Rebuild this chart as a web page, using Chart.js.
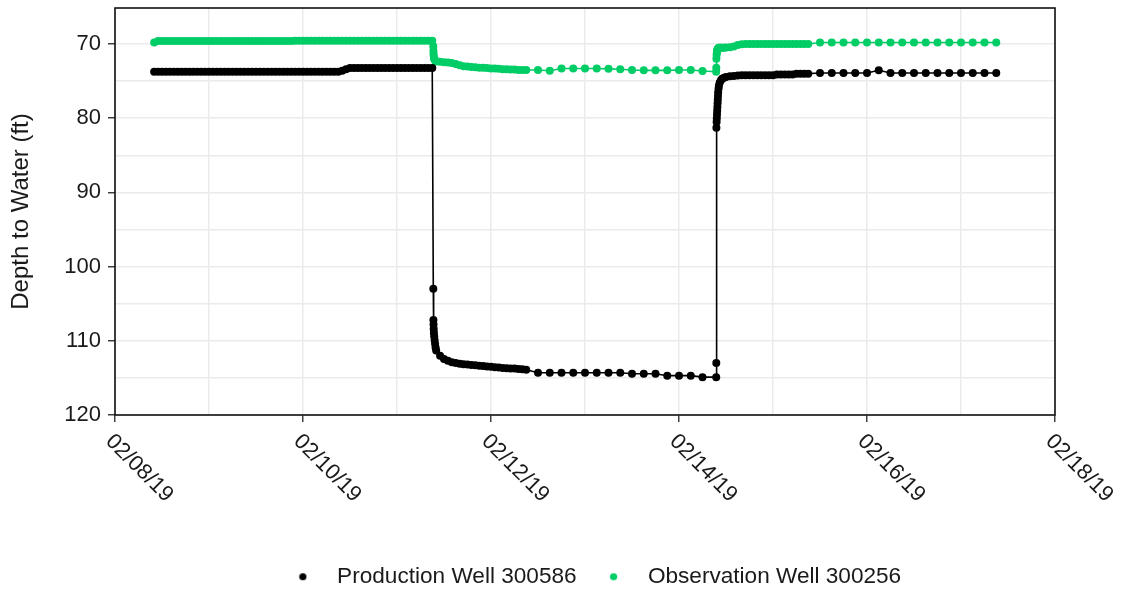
<!DOCTYPE html>
<html>
<head>
<meta charset="utf-8">
<title>Depth to Water</title>
<script src="https://cdn.jsdelivr.net/npm/chart.js@4.4.1/dist/chart.umd.min.js"></script>
<style>
  html, body { margin: 0; padding: 0; background: #ffffff; }
  #wrap { width: 1121px; height: 592px; position: relative; }
</style>
</head>
<body>
<div id="wrap"><canvas id="chart"></canvas></div>
<script>
// Logger time, hours after 02/08/19 00:00 (shared by both wells)
const hours = [
  10, 11, 12, 13, 14, 15, 16, 17, 18, 19, 20, 21,
  22, 23, 24, 25, 26, 27, 28, 29, 30, 31, 32, 33,
  34, 35, 36, 37, 38, 39, 40, 41, 42, 43, 44, 45,
  46, 47, 48, 49, 50, 51, 52, 53, 54, 55, 56, 57,
  58, 59, 60, 61, 62, 63, 64, 65, 66, 67, 68, 69,
  70, 71, 72, 73, 74, 75, 76, 77, 78, 79, 80, 81,
  81.27, 81.3, 81.33, 81.37, 81.42, 81.5, 81.6, 81.72, 81.85,
  82, 83, 84, 85, 86, 87, 88, 89, 90, 91, 92, 93,
  94, 95, 96, 97, 98, 99, 100, 101, 102, 103, 104, 105,
  108, 111, 114, 117, 120, 123, 126, 129, 132, 135, 138, 141, 144, 147, 150, 153.5,
  153.52, 153.55, 153.6, 153.65, 153.7, 153.75, 153.8, 153.85, 153.9, 153.95,
  154, 154.1, 154.2, 154.4, 154.7, 155, 155.5, 156, 157,
  158, 159, 160, 161, 162, 163, 164, 165, 166, 167,
  168, 169, 170, 171, 172, 173, 174, 175, 176, 177,
  180, 183, 186, 189, 192, 195, 198, 201, 204, 207, 210, 213, 216, 219, 222, 225
];

// Production Well 300586, depth to water (ft)
const productionDepth = [
  73.75, 73.75, 73.75, 73.75, 73.75, 73.75, 73.75, 73.75, 73.75, 73.75, 73.75, 73.75,
  73.75, 73.75, 73.75, 73.75, 73.75, 73.75, 73.75, 73.75, 73.75, 73.75, 73.75, 73.75,
  73.75, 73.75, 73.75, 73.75, 73.75, 73.75, 73.75, 73.75, 73.75, 73.75, 73.75, 73.75,
  73.75, 73.75, 73.75, 73.75, 73.75, 73.75, 73.75, 73.75, 73.75, 73.75, 73.75, 73.75,
  73.6, 73.4, 73.25, 73.25, 73.25, 73.25, 73.25, 73.25, 73.25, 73.25, 73.25, 73.25,
  73.25, 73.25, 73.25, 73.25, 73.25, 73.25, 73.25, 73.25, 73.25, 73.25, 73.25, 73.25,
  103.0, 107.2, 107.8, 108.4, 108.9, 109.4, 109.9, 110.4, 110.9,
  111.3, 112.0, 112.45, 112.7, 112.9, 113.0, 113.1, 113.15, 113.2, 113.25, 113.3, 113.35,
  113.4, 113.45, 113.5, 113.55, 113.6, 113.65, 113.7, 113.72, 113.75, 113.8, 113.85, 113.9,
  114.3, 114.3, 114.3, 114.3, 114.3, 114.3, 114.3, 114.3, 114.45, 114.45, 114.45, 114.7, 114.7, 114.7, 114.9, 114.9,
  113.0, 81.3, 80.5, 80.0, 79.5, 79.0, 78.5, 78.0, 77.5, 77.0,
  76.5, 76.0, 75.6, 75.2, 74.9, 74.7, 74.55, 74.45, 74.35,
  74.3, 74.25, 74.2, 74.2, 74.2, 74.2, 74.2, 74.2, 74.2, 74.2,
  74.2, 74.1, 74.1, 74.1, 74.1, 74.1, 74.0, 74.0, 74.0, 74.0,
  73.9, 73.9, 73.9, 73.9, 73.9, 73.55, 73.9, 73.9, 73.9, 73.9, 73.9, 73.9, 73.9, 73.9, 73.9, 73.9
];

// Observation Well 300256, depth to water (ft)
const observationDepth = [
  69.8, 69.6, 69.6, 69.6, 69.6, 69.6, 69.6, 69.6, 69.6, 69.6, 69.6, 69.6,
  69.6, 69.6, 69.6, 69.6, 69.6, 69.6, 69.6, 69.6, 69.6, 69.6, 69.6, 69.6,
  69.6, 69.6, 69.6, 69.6, 69.6, 69.6, 69.6, 69.6, 69.6, 69.6, 69.6, 69.6,
  69.55, 69.55, 69.55, 69.55, 69.55, 69.55, 69.55, 69.55, 69.55, 69.55, 69.55, 69.55,
  69.55, 69.55, 69.55, 69.55, 69.55, 69.55, 69.55, 69.55, 69.55, 69.55, 69.55, 69.55,
  69.55, 69.55, 69.55, 69.55, 69.55, 69.55, 69.55, 69.55, 69.55, 69.55, 69.55, 69.55,
  70.3, 70.9, 71.3, 71.6, 71.85, 72.0, 72.1, 72.2, 72.3,
  72.35, 72.4, 72.45, 72.5, 72.55, 72.7, 72.85, 73.0, 73.05, 73.1, 73.15, 73.2,
  73.2, 73.25, 73.3, 73.3, 73.35, 73.4, 73.4, 73.45, 73.45, 73.5, 73.5, 73.5,
  73.5, 73.6, 73.3, 73.3, 73.3, 73.3, 73.35, 73.4, 73.5, 73.55, 73.55, 73.55, 73.5, 73.5, 73.65, 73.75,
  73.2, 72.0, 71.5, 71.2, 71.0, 70.9, 70.8, 70.75, 70.7, 70.65,
  70.6, 70.55, 70.5, 70.5, 70.5, 70.5, 70.5, 70.48, 70.45,
  70.35, 70.15, 70.05, 70.0, 70.0, 70.0, 70.0, 70.0, 70.0, 70.0,
  70.0, 70.0, 70.0, 70.0, 70.0, 70.0, 70.0, 70.0, 70.0, 70.0,
  69.8, 69.8, 69.8, 69.8, 69.8, 69.8, 69.8, 69.8, 69.8, 69.8, 69.8, 69.8, 69.8, 69.8, 69.8, 69.8
];

const seriesNames = ['Production Well 300586', 'Observation Well 300256'];
const dateLabels = ['02/08/19', '02/10/19', '02/12/19', '02/14/19', '02/16/19', '02/18/19'];
const depthLabels = [70, 80, 90, 100, 110, 120];

const FONT = "'Liberation Sans', Arial, Helvetica, sans-serif";
const INK = '#1a1a1a';
const GRID = '#ebebeb';
const COLORS = ['#000000', '#00cd66'];

Chart.defaults.font.family = FONT;
Chart.defaults.color = INK;

function toPoints(values) {
  return values.map((v, i) => ({ x: hours[i], y: v }));
}

// small round marker used as legend key
function legendDot(color) {
  const c = document.createElement('canvas');
  c.width = 9; c.height = 9;
  const g = c.getContext('2d');
  g.fillStyle = color;
  g.beginPath();
  g.arc(4.5, 4.5, 3.6, 0, Math.PI * 2);
  g.fill();
  return c;
}
const legendDots = COLORS.map(legendDot);

// panel frame + rotated date labels under the time axis
const panelDecor = {
  id: 'panelDecor',
  afterUpdate(chart) {
    const lg = chart.legend;
    if (lg) {
      lg.left += 63; lg.right += 63;
      lg.top += 6; lg.bottom += 6;
    }
  },
  afterDatasetsDraw(chart) {
    const { ctx, chartArea: a } = chart;
    ctx.save();
    ctx.strokeStyle = '#111111';
    ctx.lineWidth = 1.6;
    ctx.strokeRect(a.left, a.top, a.right - a.left, a.bottom - a.top);
    ctx.restore();
  },
  afterDraw(chart) {
    const { ctx } = chart;
    const xs = chart.scales.x;
    ctx.save();
    ctx.fillStyle = INK;
    ctx.font = '22px ' + FONT;
    ctx.textAlign = 'left';
    ctx.textBaseline = 'middle';
    dateLabels.forEach((label, i) => {
      const px = xs.getPixelForValue(i * 48);
      ctx.save();
      ctx.translate(px - 6, xs.top + 23);
      ctx.rotate(Math.PI / 4);
      ctx.fillText(label, 0, 0);
      ctx.restore();
    });
    ctx.restore();
  }
};

const pointStyleOpts = (color) => ({
  borderColor: color,
  backgroundColor: color,
  pointBackgroundColor: color,
  borderWidth: 1.6,
  pointRadius: 4,
  pointBorderWidth: 0,
  pointHoverRadius: 4,
  tension: 0
});

new Chart(document.getElementById('chart'), {
  type: 'line',
  data: {
    datasets: [
      Object.assign({ label: seriesNames[0], data: toPoints(productionDepth) }, pointStyleOpts(COLORS[0])),
      Object.assign({ label: seriesNames[1], data: toPoints(observationDepth) }, pointStyleOpts(COLORS[1]))
    ]
  },
  options: {
    responsive: true,
    maintainAspectRatio: false,
    devicePixelRatio: 1,
    animation: false,
    events: [],
    layout: { padding: { top: 8, right: 66, left: 0, bottom: 0 } },
    scales: {
      x: {
        type: 'linear',
        min: 0,
        max: 240,
        afterFit(scale) {
          scale.height = 130.4;
          scale.paddingLeft = 0; scale.paddingRight = 0;
        },
        ticks: { stepSize: 24, display: false },
        grid: {
          color: GRID,
          lineWidth: 1.5,
          drawTicks: true,
          tickLength: 7,
          tickWidth: 1.4,
          tickColor: (c) => (c.tick && c.tick.value % 48 === 0 ? '#333333' : 'rgba(0,0,0,0)')
        },
        border: { display: false }
      },
      y: {
        type: 'linear',
        reverse: true,
        min: 65.15,
        max: 120,
        afterFit(scale) {
          scale.width = 115;
          scale.paddingTop = 0; scale.paddingBottom = 0;
        },
        ticks: {
          stepSize: 5,
          includeBounds: false,
          padding: 7,
          color: INK,
          font: { size: 22 },
          callback: (v) => (depthLabels.includes(v) ? String(v) : '')
        },
        grid: {
          color: GRID,
          lineWidth: 1.5,
          drawTicks: true,
          tickLength: 7,
          tickWidth: 1.4,
          tickColor: (c) => (c.tick && depthLabels.includes(c.tick.value) ? '#333333' : 'rgba(0,0,0,0)')
        },
        border: { display: false },
        title: {
          display: true,
          text: 'Depth to Water (ft)',
          color: INK,
          font: { size: 24 },
          padding: { top: 7, bottom: 0 }
        }
      }
    },
    plugins: {
      tooltip: { enabled: false },
      legend: {
        display: true,
        position: 'bottom',
        align: 'center',
        labels: {
          usePointStyle: true,
          pointStyleWidth: 46,
          padding: 14,
          color: INK,
          font: { size: 22.6 },
          generateLabels(chart) {
            const items = Chart.defaults.plugins.legend.labels.generateLabels(chart);
            items.forEach((it, i) => { it.pointStyle = legendDots[i]; });
            return items;
          }
        }
      }
    }
  },
  plugins: [panelDecor]
});
</script>
</body>
</html>
